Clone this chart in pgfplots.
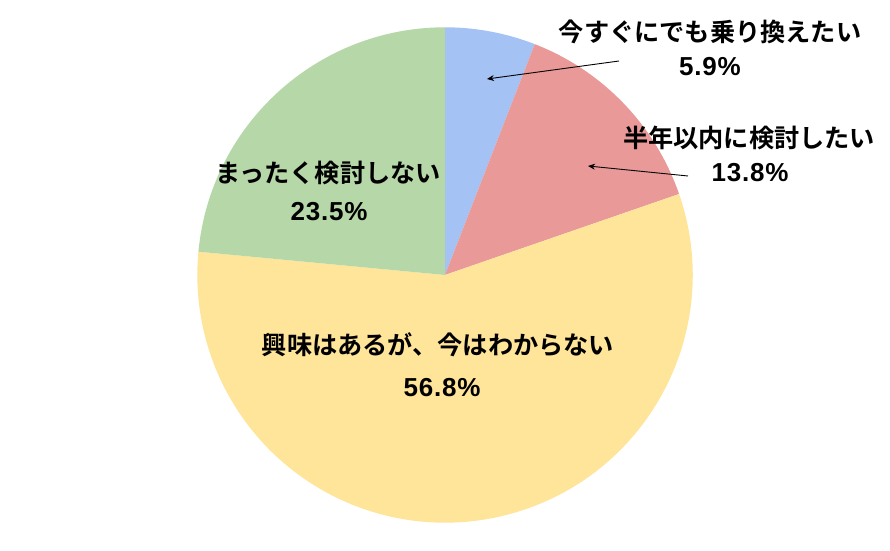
\documentclass[border=0pt]{standalone}
\usepackage{fontspec}
\setmainfont{Noto Sans CJK JP}[BoldFont={Noto Sans CJK JP Bold}]
\newfontfamily\numfont{Liberation Sans}[LetterSpace=3]
\usepackage{pgfplots}
\pgfplotsset{compat=1.18}
\usetikzlibrary{arrows.meta}
\definecolor{cBlue}{HTML}{A4C2F4}
\definecolor{cPink}{HTML}{EA9999}
\definecolor{cYellow}{HTML}{FFE599}
\definecolor{cGreen}{HTML}{B6D7A8}
% pie values (percent), clockwise from the top
\def\vA{5.9}
\def\vB{13.8}
\def\vC{56.8}
\def\vD{23.5}
\pgfmathsetmacro\aA{90}
\pgfmathsetmacro\aB{\aA-3.6*\vA}
\pgfmathsetmacro\aC{\aB-3.6*\vB}
\pgfmathsetmacro\aD{\aC-3.6*\vC}
\pgfmathsetmacro\aE{\aD-3.6*\vD}
\def\R{123.85pt}
\begin{document}
\begin{tikzpicture}
\begin{axis}[
  scale only axis, width=445pt, height=275.5pt,
  xmin=0, xmax=890, ymin=0, ymax=551,
  hide axis, clip=false,
]
\path (rel axis cs:0,0) rectangle (rel axis cs:1,1);
\fill[cBlue]   (axis cs:445,276) -- ++(\aA:\R) arc[start angle=\aA, end angle=\aB, radius=\R] -- cycle;
\fill[cPink]   (axis cs:445,276) -- ++(\aB:\R) arc[start angle=\aB, end angle=\aC, radius=\R] -- cycle;
\fill[cYellow] (axis cs:445,276) -- ++(\aC:\R) arc[start angle=\aC, end angle=\aD, radius=\R] -- cycle;
\fill[cGreen]  (axis cs:445,276) -- ++(\aD:\R) arc[start angle=\aD, end angle=\aE, radius=\R] -- cycle;
\draw[line width=0.45pt, -{Stealth[length=3.5pt,width=3pt]}] (axis cs:619,490) -- (axis cs:487,472);
\draw[line width=0.45pt, -{Stealth[length=3.5pt,width=3pt]}] (axis cs:688,375) -- (axis cs:588,385);
\begin{scope}[every node/.style={font=\fontsize{12.6pt}{15pt}\bfseries\selectfont, inner sep=0pt},
  pct/.style={font=\fontsize{13pt}{15pt}\numfont\bfseries\selectfont}]
\node at (axis cs:710,519) {今すぐにでも乗り換えたい};
\node[pct] at (axis cs:710,484) {5.9\%};
\node at (axis cs:749,413) {半年以内に検討したい};
\node[pct] at (axis cs:750,378) {13.8\%};
\node at (axis cs:328,378) {まったく検討しない};
\node[pct] at (axis cs:329,339) {23.5\%};
\node at (axis cs:438,206) {興味はあるが、今はわからない};
\node[pct] at (axis cs:442,163) {56.8\%};
\end{scope}
\end{axis}
\end{tikzpicture}
\end{document}
